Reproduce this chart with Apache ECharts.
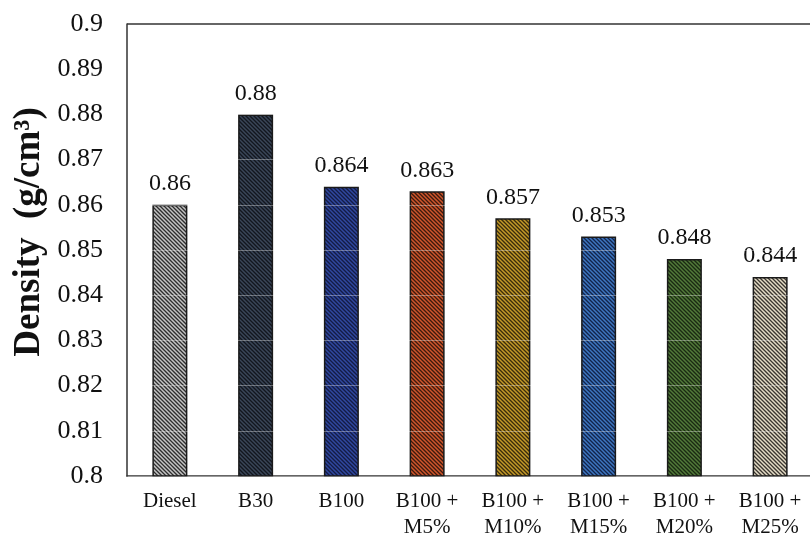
<!DOCTYPE html>
<html>
<head>
<meta charset="utf-8">
<script src="https://cdn.jsdelivr.net/npm/echarts@6/dist/echarts.min.js"></script>
<style>
html,body{margin:0;padding:0;background:#fff;overflow:hidden;}
#chart{width:810px;height:538px;}
</style>
</head>
<body>
<div id="chart"></div>
<script>
const categories = ['Diesel', 'B30', 'B100', 'B100 +\nM5%', 'B100 +\nM10%', 'B100 +\nM15%', 'B100 +\nM20%', 'B100 +\nM25%'];
const densities = [0.86, 0.88, 0.864, 0.863, 0.857, 0.853, 0.848, 0.844];
const yMin = 0.8, yMax = 0.9, yStep = 0.01;
const axisTitle = 'Density  (g/cm³)';

// stripe colours per bar: [light, dark]
const stripeColors = [
  ['#c4c4c4', '#2e2e2e'],
  ['#3a4658', '#12161e'],
  ['#3048a0', '#141c44'],
  ['#d0562c', '#3c1a0e'],
  ['#c49a28', '#3a2c0c'],
  ['#3e76c0', '#12244a'],
  ['#527a3a', '#1a2a12'],
  ['#e4dcc6', '#3a3630']
];

function makePattern(light, dark) {
  const c = document.createElement('canvas');
  c.width = 8; c.height = 8;
  const ctx = c.getContext('2d');
  ctx.fillStyle = dark;
  ctx.fillRect(0, 0, 8, 8);
  ctx.strokeStyle = light;
  ctx.lineWidth = 1.5;
  for (let k = -12; k <= 12; k += 4) {
    ctx.beginPath();
    ctx.moveTo(k - 2, -2);
    ctx.lineTo(k + 10, 10);
    ctx.stroke();
  }
  return { image: c, repeat: 'repeat' };
}

const chart = echarts.init(document.getElementById('chart'));
const serif = 'Liberation Serif, Times New Roman, serif';
const frame = { show: true, lineStyle: { color: '#333', width: 1.5 } };
const gridBox = { left: 127, top: 24, width: 686, height: 452 };

chart.setOption({
  animation: false,
  backgroundColor: '#fff',
  grid: Object.assign({ show: false, containLabel: false, outerBoundsMode: 'none' }, gridBox),
  xAxis: {
    type: 'category',
    data: categories,
    axisLine: frame,
    axisTick: { show: false },
    splitLine: { show: false },
    axisLabel: { color: '#111', fontFamily: serif, fontSize: 21, lineHeight: 26, margin: 12, interval: 0 }
  },
  yAxis: {
    type: 'value',
    min: yMin, max: yMax, interval: yStep,
    z: 10,
    axisLine: frame,
    axisTick: { show: false },
    axisLabel: { color: '#111', fontFamily: serif, fontSize: 26, margin: 24 },
    splitLine: { show: true, lineStyle: { color: 'rgba(255,255,255,0.35)', width: 1 } }
  },
  graphic: [{
    type: 'text',
    x: 29, y: 232,
    rotation: Math.PI / 2,
    style: {
      text: axisTitle,
      fontFamily: serif, fontSize: 37, fontWeight: 'bold',
      fill: '#111', align: 'center', verticalAlign: 'middle'
    }
  }, {
    // mask the stray edge line at the open right side of the frame
    type: 'rect', z: 1000,
    shape: { x: 805, y: gridBox.top + 2, width: 10, height: gridBox.height - 4 },
    style: { fill: '#fff' }
  }, {
    type: 'line', z: 1001,
    shape: { x1: gridBox.left, y1: gridBox.top, x2: gridBox.left + gridBox.width, y2: gridBox.top },
    style: { stroke: '#333', lineWidth: 1.5 }
  }],
  series: [{
    type: 'bar',
    barWidth: 35,
    data: densities.map((v, i) => ({
      value: v,
      itemStyle: { color: makePattern(stripeColors[i][0], stripeColors[i][1]) }
    })),
    itemStyle: { borderColor: '#1a1a1a', borderWidth: 1.5 },
    label: {
      show: true, position: 'top', distance: 9,
      color: '#111', fontFamily: serif, fontSize: 24,
      formatter: p => String(p.value)
    }
  }]
});
</script>
</body>
</html>
